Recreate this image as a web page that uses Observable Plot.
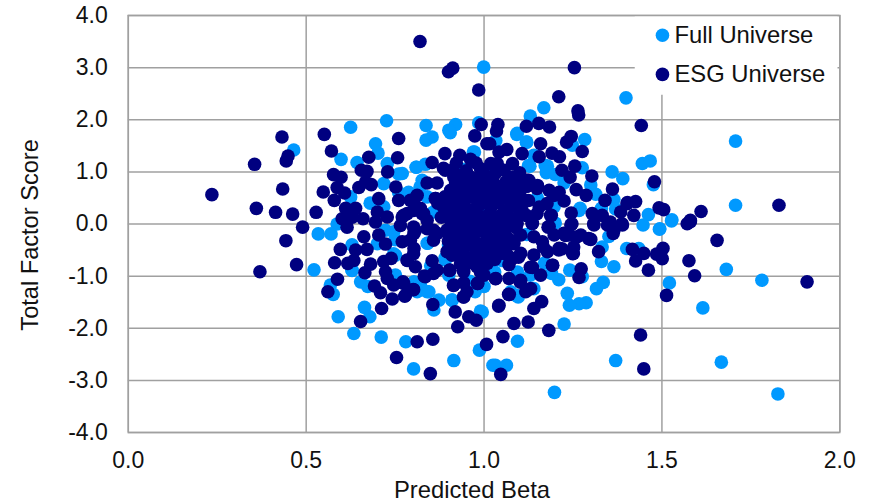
<!DOCTYPE html>
<html><head><meta charset="utf-8">
<script src="https://cdn.jsdelivr.net/npm/d3@7"></script>
<script src="https://cdn.jsdelivr.net/npm/@observablehq/plot@0.6"></script>
<style>html,body{margin:0;padding:0;background:#fff}svg{display:block}</style>
</head><body><div id="chart"></div>
<script>
const xLabel = "Predicted Beta";
const yLabel = "Total Factor Score";
const xTicks = [0, 0.5, 1, 1.5, 2];
const yTicks = [-4, -3, -2, -1, 0, 1, 2, 3, 4];
const seriesNames = ["Full Universe", "ESG Universe"];
const seriesColors = ["#0099ff", "#000080"];
const legendX = [1.5015, 1.5015];
const legendY = [3.62, 2.87];
const legendBox = {x1: 1.425, x2: 1.995, y1: 2.47, y2: 3.98};
const xLabelAt = 0.966;
const yLabelAt = -0.21;

const fullPoints = [
[.999,3.01],[.726,1.98],[.625,1.855],[.837,1.89],[.92,1.91],[.901,1.80],[.905,1.75],[.854,1.67],[.837,1.61],[.465,1.42],
[.695,1.54],[.702,1.36],[.598,1.24],[.643,1.18],[.728,1.16],[.76,.96],[.809,1.09],[.835,1.145],[.718,.774],[.973,1.38],
[.985,1.94],[.826,.84],[.82,.71],[.788,.61],[.625,.52],[.84,.52],[.718,.33],[.858,.23],[.587,0],
[1.399,2.42],[1.168,2.23],[1.13,2.07],[1.707,1.59],[1.283,1.62],[1.092,1.72],[1.119,1.57],[1.033,1.6],[1.248,1.51],[1.445,1.16],
[1.467,1.21],[1.36,1.0],[1.39,.87],[1.276,1.08],[1.178,1.11],[1.129,1.11],[1.175,.985],[1.14,1.32],[1.225,.79],[1.314,.57],
[1.365,.47],[1.37,.29],[1.476,.755],[1.707,.36],[1.462,.18],[1.528,.08],[1.494,-.09],[1.267,.26],[1.197,.33],
[.534,-.19],[.57,-.19],[.522,-.88],[.629,-.40],[.746,-.15],[.842,-.37],[.751,-.6],[.629,-.885],[.653,-1.11],[.673,-1.2],
[.568,-1.17],[.576,-1.35],[.59,-1.78],[.664,-1.6],[.679,-1.78],[.634,-2.1],[.711,-2.17],[.78,-2.26],[.802,-2.78],[.915,-2.62],
[.987,-2.42],[.873,-1.46],[.859,-1.65],[.91,-1.46],[.99,-1.67],[.845,-1.3],[.803,-1.11],[.751,-.98],[.812,-1.3],[.901,-.98],
[1.025,-2.71],[.891,-.69],
[1.447,-.02],[1.493,-.10],[1.527,.06],[1.401,-.47],[1.435,-.47],[1.365,-.82],[1.681,-.87],[1.781,-1.08],[1.521,-1.13],[1.615,-1.61],
[1.335,-1.12],[1.316,-1.24],[1.287,-1.51],[1.267,-1.53],[1.24,-1.56],[1.234,-1.33],[1.21,-1.07],[1.241,-.885],[1.225,-1.92],[1.094,-2.25],
[1.37,-2.62],[1.667,-2.65],[1.826,-3.26],[1.198,-3.23],[1.032,-2.71],[1.063,-2.71],[.995,-1.69],[1.094,-.92],[1.03,-.92],[1.075,-1.3],
[1.096,-1.4],[1.14,-1.24],[1.276,-1.01],[1.351,-.24],[1.332,-.44],
[.84,-.37],[.89,-.66],[.998,-.54],[.91,-1.46],[1.094,-.95],[1.09,-1.37],[1.093,1.74],[1.12,1.57],[1.125,1.12],[1.172,1.12],[1.177,1],
[.77,.97],[.81,1.09],[.97,1.38],[1.0,.3],[.9,-.4],[1.05,-.7],[1.15,.5],[.75,-.3],
[.723,-.12],[.7,-.38],[.746,-.57],[.629,-.89],[.821,-1.15],[.84,-1.3],[.62,.25],[.68,.4],[.76,.6],[.94,1.05],[1.02,.98],[1.2,.95],[1.3,.75],
[1.33,.3],[1.27,.3],[1.2,.02],[.975,-1.3],[1.0,-1.2],[.96,-1.1],[1.17,-.75],[1.13,-.98],[1.19,-.95],[1.33,-.72],[.85,-.8],[1.12,-.2]
];

const esgPoints = [
[.82,3.50],[.90,2.92],[.912,2.99],[.985,2.57],[.432,1.67],[.355,1.145],[.449,1.305],[.444,1.21],[.235,.563],[.434,.672],
[.36,.30],[.414,.224],[.462,.19],[.528,.224],[.49,-.06],[.551,1.72],[.571,1.40],[.676,1.28],[.76,1.64],[.757,1.27],
[.992,1.91],[.974,1.69],[1.008,1.54],[.89,1.35],[.854,1.18],[.932,1.32],[.922,1.17],[.962,1.24],[.978,1.17],[.577,.947],
[.598,.896],[.655,1.03],[.671,1.01],[.729,1.0],[.667,.806],[.683,.755],[.648,.70],[.587,.70],[.608,.595],[.548,.614],
[.579,.454],[.752,.71],[.704,.486],[.76,.454],[.611,.30],[.639,.30],[.601,.10],[.70,.23],[.728,.134],[.77,.134],
[.812,.55],[.793,.454],[.802,.26],[.826,.2],[.84,.787],[.868,.787],[.863,.486],[.891,1.03],[.915,.90],[.962,.90],
[.63,.13],[.66,.1],[.695,.037],[.615,-.06],[.765,-.03],[.83,.2],[.807,-.12],[.84,-.09],[.774,.165],
[1.254,3.0],[1.21,2.44],[1.264,2.17],[1.266,2.09],[1.039,1.91],[1.035,1.785],[1.119,1.875],[1.154,1.93],[1.184,1.86],[1.442,1.89],
[1.016,1.54],[1.159,1.54],[1.245,1.68],[1.232,1.57],[1.276,1.39],[1.064,1.43],[1.042,1.38],[1.107,1.35],[1.155,1.29],[1.191,1.36],
[1.212,1.29],[1.255,1.11],[1.219,1.03],[1.242,.90],[1.303,.92],[1.479,.81],[1.361,.67],[1.259,.66],[1.287,.55],[1.34,.454],
[1.403,.41],[1.426,.43],[1.492,.31],[1.505,.275],[1.61,.24],[1.829,.36],[1.58,.07],[1.571,.006],[1.384,.23],[1.421,.166],
[1.304,.2],[1.332,.166],[1.245,.21],[1.189,.166],[1.225,.44],[1.211,.61],[1.126,.84],[1.107,.77],[1.15,.74],[1.183,.646],
[1.084,.518],[1.112,.454],[1.155,.326],[1.056,.58],[1.028,.774],[1.061,.806],[1.019,1.158],[1.037,1.158],[1.056,1.03],[1.08,1.158],
[1.308,.005],[1.355,.038],[1.388,.005],[1.365,-.12],[1.402,.39],[1.247,.005],[1.229,-.22],[1.261,-.25],[1.294,-.28],[1.252,-.44],[1.249,-.57],[1.219,-.475],
[.443,-.32],[.37,-.917],[.473,-.78],[.596,-.487],[.58,-.744],[.617,-.756],[.639,-.5],[.671,-.487],[.662,-.244],[.723,-.385],
[.704,-.21],[.77,-.34],[.803,-.47],[.784,-.69],[.807,-.82],[.854,-.705],[.739,-.66],[.718,-.72],[.681,-.77],[.665,-.936],
[.723,-.917],[.728,-1.045],[.772,-1.11],[.746,-1.17],[.692,-1.19],[.709,-1.32],[.588,-1.06],[.561,-1.30],[.801,-1.256],[.777,-1.385],
[.742,-1.44],[.712,-1.62],[.653,-1.87],[.856,-1.545],[.919,-1.686],[.957,-1.78],[.978,-1.846],[.926,-1.97],[.812,-2.26],[.856,-2.21],
[.754,-2.56],[.849,-2.87],[1.007,-2.31],[.943,-1.40],[.952,-1.30],[.915,-1.17],[.943,-1.13],[.982,-1.14],[.835,-1.01],[.868,-.885],
[.904,-.885],[.943,-.917],[.971,-.756],[1.004,-.724],[.896,-.53],[.929,-.436],[.952,-.31],[.868,-.18],[.803,-.18],
[.896,-.115],[.971,-.18],[.994,-.5],[.634,-.7],
[1.655,-.314],[1.576,-.705],[1.592,-.994],[1.908,-1.11],[1.513,-1.37],[1.44,-2.13],[1.449,-2.78],[1.047,-2.885],[1.053,-2.16],[1.084,-1.91],
[1.124,-1.88],[1.182,-2.04],[1.042,-1.56],[1.14,-1.62],[1.162,-1.49],[1.071,-1.35],[1.117,-1.30],[1.131,-1.24],[1.103,-1.08],[1.07,-1.045],
[1.033,-1.045],[1.0,-.98],[1.159,-.98],[1.136,-.833],[1.193,-.79],[1.267,-1.026],[1.273,-.86],[1.251,-.564],[1.322,-.53],[1.3,-.295],
[1.272,-.21],[1.239,-.21],[1.211,-.468],[1.178,-.53],[1.14,-.596],[1.164,-.34],[1.14,-.244],[1.197,-.21],[1.183,-.05],[1.244,-.02],
[1.309,-.02],[1.347,-.02],[1.363,-.18],[1.389,-.02],[1.417,-.487],[1.449,-.564],[1.426,-.71],[1.462,-.885],[1.485,-.577],[1.503,-.468],
[1.501,-.667],[1.58,.045],[1.136,.013],[1.103,-.564],[1.08,-.66],[1.047,-.564],[1.019,-.5],[1.009,-.756],[1.084,-.37],[1.103,-.21],
[1.047,-.244],[1.019,-.18],[1.066,-.02],[1.028,.013],
[.886,1.07],[.928,.93],[.976,.875],[1.018,.78],[1.121,.84],[1.102,.71],[1.149,.68],[1.196,.55],[.864,.49],[.906,.645],
[.948,.585],[.99,.55],[1.037,.49],[1.074,.55],[1.125,.45],[1.177,.39],[.802,.45],[.784,.2],[.821,.3],[.886,.325],
[.934,.325],[.98,.325],[1.018,.23],[1.065,.26],[1.107,.26],[1.149,.2],[1.187,.166],[.84,.07],[.906,.07],[.952,.1],
[.998,.04],[1.046,.07],[1.093,.01],[1.135,.01],[.87,.4],[.93,.45],[1.0,.7],[.96,.72],[1.08,.9],[1.0,.95],
[.784,-.7],[.832,-1.0],[.858,-.95],[.903,-.89],[.942,-.89],[.99,-.92],[1.032,-1.05],[1.102,-1.115],[1.12,-1.275],[.914,-1.18],
[.942,-1.40],[.982,-1.14],[.779,-1.37],[.802,-1.26],[.774,-1.14],[1.041,-1.575],[1.069,-1.35],[1.167,-.44],[1.21,-.5],[1.192,-.79],
[1.13,-.83],[1.224,-.18],[.906,-.5],[.933,-.41],[.858,-.31],[.793,-.31],[.802,-.57],[.953,-.12],[1.01,-.31],[1.046,-.31],
[1.083,-.38],[.967,-.635],[1.018,-.635],[1.066,-.6],[1.097,-.635],[.934,-.76],[.858,-.12],[.906,-.06],[.802,-.06],[1.18,-.06]
];

// Heavily overlapped middle of the ESG cloud, read row by row
const esgCorePoints = [
[.91,1.03],[.95,1.02],[.99,1.06],[1.03,.96],[1.1,.98],
[.92,.79],[.95,.84],[.98,.78],[1.01,.84],[1.05,.72],[1.08,.79],[1.12,.72],
[.93,.66],[.97,.63],[1.0,.6],[1.03,.66],[1.07,.64],[1.1,.6],
[.89,.52],[.92,.55],[.95,.49],[.98,.46],[1.01,.52],[1.04,.41],[1.07,.46],[1.1,.36],
[.9,.4],[.93,.37],[.96,.27],[.99,.38],[1.02,.33],
[1.05,.18],[1.08,.34],[1.12,.16],[.88,.13],[.91,.23],[.94,.16],[.97,.19],
[1.0,.14],[1.03,.1],[1.06,.14],[1.09,.11],
[.92,.02],[.94,-.05],[.97,.02],[1.0,-.06],[1.03,-.09],[1.06,-.1],[1.09,-.07],
[.91,-.17],[.93,-.22],[.97,-.28],[.99,-.13],[1.02,-.24],[1.05,-.19],[1.07,-.29],
[.9,-.33],[.94,-.37],[.97,-.42],[1.0,-.36],[1.03,-.41],[1.06,-.43],
[.91,-.6],[.94,-.55],[.98,-.58],[1.0,-.61],[1.03,-.68],[1.06,-.5],
[.95,-.7],[.98,-.82],[1.07,-.78],
[.97,.75],[.94,.68],[1.04,.6],[.9,.3],[.96,.05],[1.02,-.02],[.9,-.2]
];

const toRows = (pts) => pts.map(([beta, score]) => ({beta, score}));
const legendRows = seriesNames.map((name, i) => ({name, x: legendX[i], y: legendY[i], color: seriesColors[i]}));
const fmt = (d) => d.toFixed(1);
const textColor = "#111";

const chart = Plot.plot({
  width: 874, height: 503,
  marginLeft: 127.8, marginRight: 34.7, marginTop: 15, marginBottom: 71,
  style: {fontFamily: "'Liberation Sans', Arial, sans-serif", background: "#fff", color: textColor},
  x: {domain: [0, 2]},
  y: {domain: [-4, 4]},
  marks: [
    Plot.gridX(xTicks, {stroke: "#a0a0a0", strokeWidth: 1.5, strokeOpacity: 1}),
    Plot.gridY(yTicks, {stroke: "#a0a0a0", strokeWidth: 1.5, strokeOpacity: 1}),
    Plot.dot(toRows(fullPoints), {x: "beta", y: "score", r: 6.8, fill: seriesColors[0], stroke: "none"}),
    Plot.dot(toRows(esgPoints), {x: "beta", y: "score", r: 6.8, fill: seriesColors[1], stroke: "none"}),
    Plot.dot(toRows(esgCorePoints), {x: "beta", y: "score", r: 6.8, fill: seriesColors[1], stroke: "none"}),
    Plot.rect([legendBox], {x1: "x1", x2: "x2", y1: "y1", y2: "y2", fill: "#fff"}),
    Plot.frame({stroke: "#a0a0a0", strokeWidth: 1.5}),
    Plot.dot(legendRows, {x: "x", y: "y", r: 6.8, fill: "color", stroke: "none"}),
    Plot.text(legendRows, {x: "x", y: "y", text: "name", textAnchor: "start", dx: 12, fontSize: 23.8, fill: textColor}),
    Plot.axisX(xTicks, {tickSize: 0, tickPadding: 19, tickFormat: fmt, fontSize: 23, label: null, anchor: "bottom"}),
    Plot.axisY(yTicks, {tickSize: 0, tickPadding: 20.5, tickFormat: fmt, fontSize: 23, label: null, anchor: "left"}),
    Plot.text([xLabel], {x: () => xLabelAt, frameAnchor: "bottom", dy: 65, text: (d) => d, fontSize: 23.8, fill: textColor}),
    Plot.text([yLabel], {y: () => yLabelAt, frameAnchor: "left", dx: -98, rotate: -90, textAnchor: "middle", text: (d) => d, fontSize: 23.6, fill: textColor})
  ]
});
document.getElementById("chart").appendChild(chart);
</script></body></html>
